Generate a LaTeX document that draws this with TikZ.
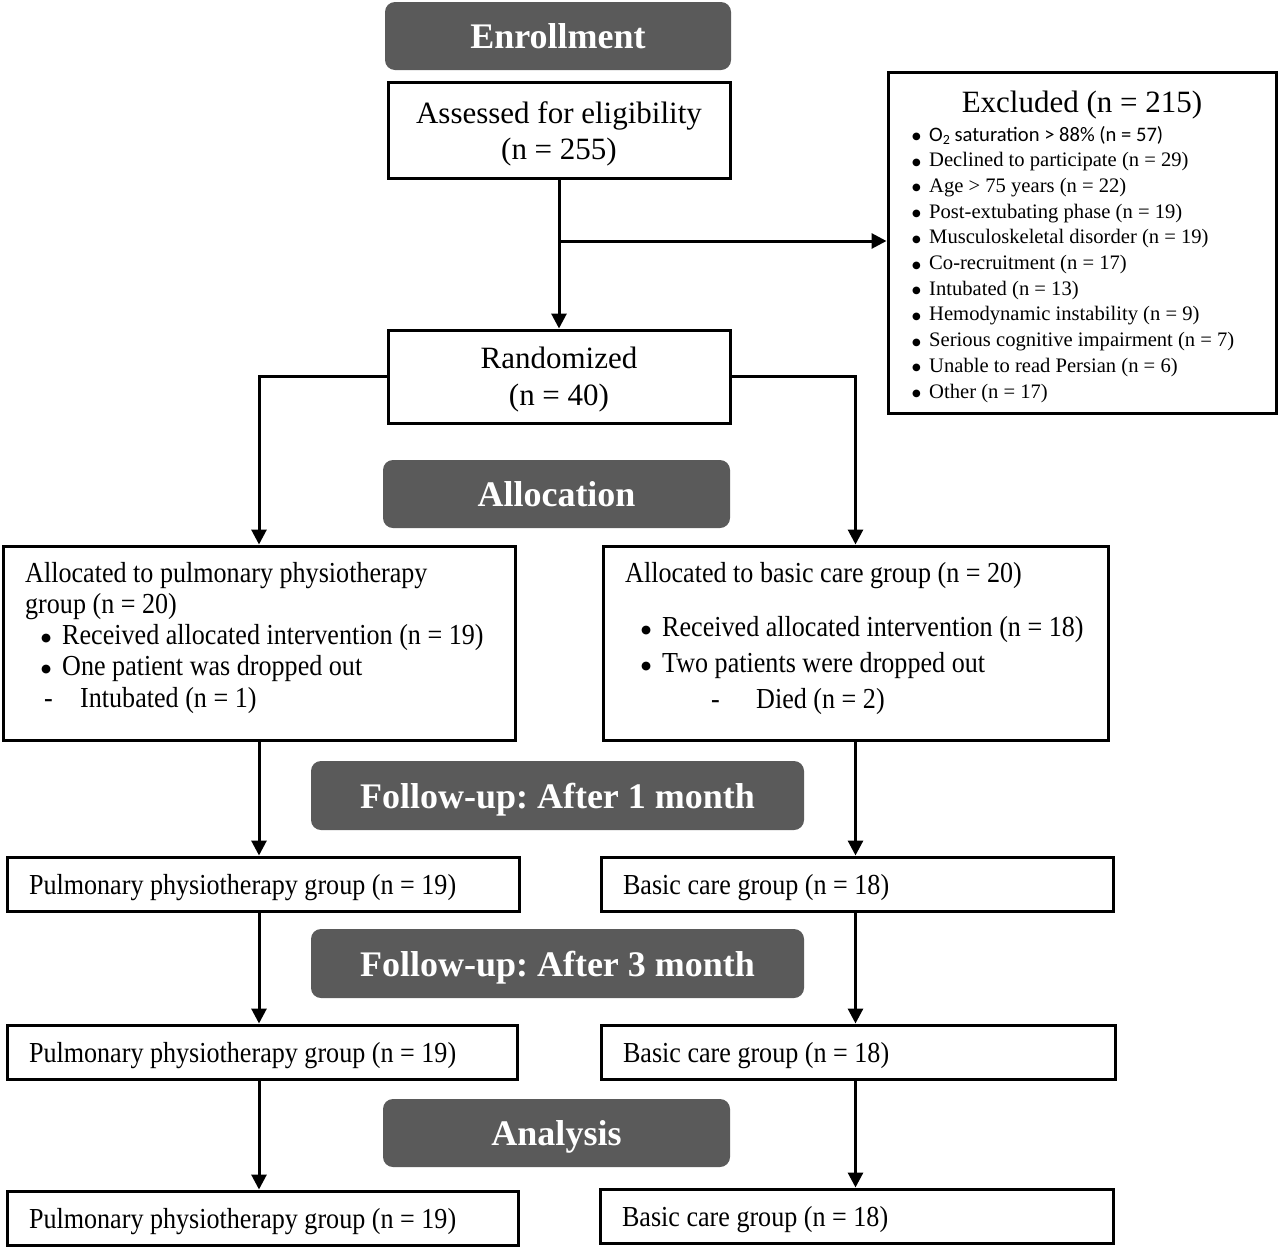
\documentclass[tikz,border=0pt]{standalone}
\usepackage{fontspec}
\setmainfont{Liberation Serif}
\newfontfamily\condfont[FakeStretch=0.9]{Liberation Serif}
\newfontfamily\calfont{Carlito}
\newfontfamily\symfont{DejaVu Sans}
\usetikzlibrary{arrows.meta}
\definecolor{hdrgray}{RGB}{90,90,90}
\frenchspacing
\newcommand\bigtxt{\fontsize{31}{36}\selectfont}
\newcommand\randtxt{\fontsize{31}{37}\selectfont}
\newcommand\hdrtxt{\fontsize{36}{40}\selectfont\bfseries}
\newcommand\smalltxt{\fontsize{20.6}{25.7}\selectfont}
\newcommand\condtxt{\condfont\fontsize{29}{31.25}\selectfont}
\newcommand\condtxtR{\condfont\fontsize{29}{36}\selectfont}
\newcommand\dotb{\raisebox{3pt}{\symfont\fontsize{11.5}{12}\selectfont ●}}
\newcommand\sdotb{\raisebox{1.5pt}{\symfont\fontsize{10}{10}\selectfont ●}}
\newcommand\bul{\makebox[37pt][l]{\hspace*{16pt}\dotb}}
\newcommand\sbul{\makebox[19pt][l]{\hspace*{2pt}\sdotb}}
\newcommand\nsp{\spaceskip=0pt\xspaceskip=0pt\relax}
\begin{document}
\begin{tikzpicture}[x=1pt,y=-1pt,
  hdr/.style={fill=hdrgray, draw=none, rounded corners=10pt, text=white, font=\hdrtxt, inner sep=0pt, text depth=0pt},
  frame/.style={draw, line width=3pt, inner sep=0pt},
  cbox/.style={frame, align=center, font=\bigtxt},
  lbox/.style={frame, inner xsep=22pt, align=left, font=\condtxt, minimum height=54pt, text depth=0pt},
  arr/.style={line width=3pt, -{Triangle[length=15pt,width=15pt]}},
  txt/.style={inner sep=0pt, align=left}]
\path[fill=white, use as bounding box] (0,0) rectangle (1280,1248);

% headers
\node[hdr, minimum width=346pt, minimum height=68pt] (enroll) at (558,36) {Enrollment};
\node[hdr, minimum width=347pt, minimum height=68pt] (allochdr) at (556.5,494) {Allocation};
\node[hdr, minimum width=493pt, minimum height=69pt] (fuone) at (557.5,795.5) {Follow-up: After 1 month};
\node[hdr, minimum width=493pt, minimum height=69pt] (futhree) at (557.5,963.5) {Follow-up: After 3 month};
\node[hdr, minimum width=347pt, minimum height=68pt] (anhdr) at (556.5,1133) {Analysis};

% top boxes
\node[cbox, minimum width=342pt, minimum height=96pt] (assess) at (559,130) {\rule{0pt}{29pt}Assessed for eligibility\\(n = 255)};
\node[cbox, font=\randtxt, minimum width=342pt, minimum height=93pt] (rand) at (559,376.5) {\rule{0pt}{27pt}Randomized\\(n = 40)};

% excluded
\node[frame, minimum width=388pt, minimum height=341pt] (excl) at (1082,242.5) {};
\node[inner sep=0pt, font=\bigtxt] (excltitle) at (1082,105) {Excluded (n = 215)};
\node[txt, anchor=north west, font=\smalltxt] (excllist) at (910,124.8) {%
\rule{0pt}{16pt}\sbul{\calfont O\raisebox{-3pt}{\fontsize{14}{14}\selectfont 2} saturation > 88\% (n = 57)}\\
\sbul Declined to participate (n = 29)\\
\sbul Age > 75 years (n = 22)\\
\sbul Post-extubating phase (n = 19)\\
\sbul Musculoskeletal disorder (n = 19)\\
\sbul Co-recruitment (n = 17)\\
\sbul Intubated (n = 13)\\
\sbul Hemodynamic instability (n = 9)\\
\sbul Serious cognitive impairment (n = 7)\\
\sbul Unable to read Persian (n = 6)\\
\sbul Other (n = 17)};

% allocation boxes
\node[frame, minimum width=512pt, minimum height=194pt] (allocL) at (259,643) {};
\node[txt, anchor=north west, font=\condtxt] (allocLtxt) at (25,560) {%
\rule{0pt}{22pt}Allocated to pulmonary physiotherapy\\
group (n = 20)\\
\bul Received allocated intervention (n = 19)\\
\bul One patient was dropped out\\
\makebox[55pt][l]{\hspace*{19pt}-}Intubated (n = 1)};

\node[frame, minimum width=505pt, minimum height=194pt] (allocR) at (855.5,643) {};
\node[txt, anchor=north west, font=\condtxtR] (allocRtxt) at (625,560) {%
\rule{0pt}{22pt}Allocated to basic care group (n = 20)\\[18pt]
\bul Received allocated intervention (n = 18)\\
\bul Two patients were dropped out\\
\makebox[131pt][l]{\hspace*{86pt}-}Died (n = 2)};

% follow-up boxes
\node[lbox, text width=468pt] (fuoneL) at (263,884) {\nsp Pulmonary physiotherapy group (n = 19)};
\node[lbox, text width=468pt] (fuoneR) at (857,884) {\nsp Basic care group (n = 18)};
\node[lbox, text width=466pt] (futhreeL) at (262,1052) {\nsp Pulmonary physiotherapy group (n = 19)};
\node[lbox, text width=470pt] (futhreeR) at (858,1052) {\nsp Basic care group (n = 18)};
\node[lbox, text width=467pt] (anL) at (262.5,1218) {\nsp Pulmonary physiotherapy group (n = 19)};
\node[lbox, text width=469pt] (anR) at (856.5,1216) {\nsp Basic care group (n = 18)};

% connectors
\draw[arr] (assess.south) -- (rand.north);
\coordinate (branch) at (559,241);
\draw[arr] (branch) -- (excl.west |- branch);
\draw[arr] (rand.west) -| (allocL.north);
\draw[arr] (rand.east) -| (allocR.north);

\draw[arr] (allocL.south) -- (allocL.south |- fuoneL.north);
\draw[arr] (allocR.south) -- (allocR.south |- fuoneR.north);
\draw[arr] (allocL.south |- fuoneL.south) -- (allocL.south |- futhreeL.north);
\draw[arr] (allocR.south |- fuoneR.south) -- (allocR.south |- futhreeR.north);
\draw[arr] (allocL.south |- futhreeL.south) -- (allocL.south |- anL.north);
\draw[arr] (allocR.south |- futhreeR.south) -- (allocR.south |- anR.north);
\end{tikzpicture}
\end{document}
